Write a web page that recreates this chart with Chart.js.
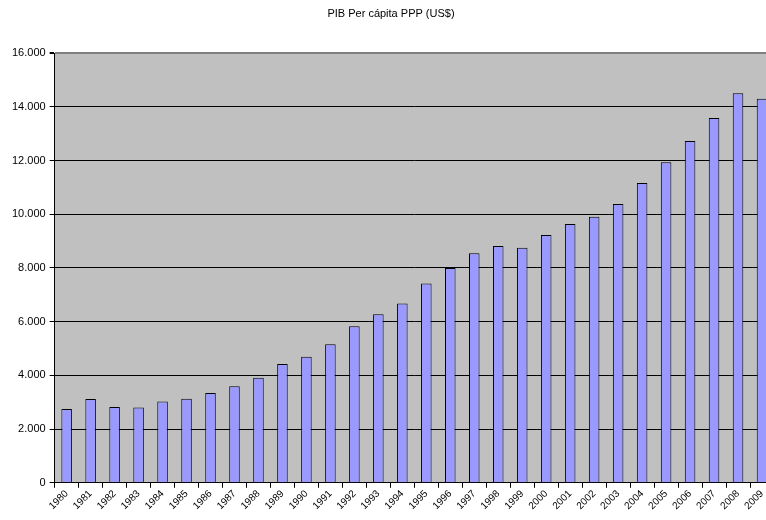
<!DOCTYPE html>
<html>
  <head>
    <script src="https://cdn.jsdelivr.net/npm/chart.js"></script>
    <style>
      body { margin: 0; overflow: hidden; background: #fff; font-family: Arial; }
      #wrap { width: 800px; height: 520px; }
    </style>
  </head>
  <body>
    <div id="wrap"><canvas id="pibChart"></canvas></div>

    <script>
      const years = ['1980', '1981', '1982', '1983', '1984', '1985', '1986', '1987', '1988', '1989',
                     '1990', '1991', '1992', '1993', '1994', '1995', '1996', '1997', '1998', '1999',
                     '2000', '2001', '2002', '2003', '2004', '2005', '2006', '2007', '2008', '2009'];
      const pibPerCapita = [2750, 3120, 2820, 2800, 3030, 3130, 3340, 3600, 3915, 4425,
                            4690, 5160, 5830, 6280, 6680, 7420, 8000, 8550, 8815, 8755,
                            9225, 9635, 9910, 10380, 11165, 11935, 12730, 13590, 14510, 14300];
      const yTicks = [0, 2000, 4000, 6000, 8000, 10000, 12000, 14000, 16000];

      const fmt = v => String(v).replace(/\B(?=(\d{3})+(?!\d))/g, '.');

      // grey plot area like the old Excel default
      const plotBg = {
        id: 'plotBg',
        beforeDraw(chart) {
          const a = chart.chartArea, c = chart.ctx;
          c.save();
          c.fillStyle = '#c0c0c0';
          c.fillRect(a.left, a.top, a.right - a.left, a.bottom - a.top);
          c.restore();
        }
      };

      Chart.defaults.font.family = 'Arial, "Liberation Sans"';
      Chart.defaults.color = '#000';

      new Chart(document.getElementById('pibChart'), {
        type: 'bar',
        data: {
          labels: years,
          datasets: [{
            label: 'PIB Per cápita PPP (US$)',
            data: pibPerCapita,
            backgroundColor: '#9999ff',
            borderColor: '#000',
            borderWidth: 1,
            categoryPercentage: 1,
            barPercentage: 0.44
          }]
        },
        options: {
          responsive: true,
          maintainAspectRatio: false,
          animation: false,
          layout: { padding: { left: 8, right: 26, top: 0, bottom: 8 } },
          plugins: {
            legend: { display: false },
            tooltip: { enabled: false },
            title: {
              display: true,
              text: 'PIB Per cápita PPP (US$)',
              font: { size: 11, weight: 'normal' },
              padding: { top: 7, bottom: 33 }
            }
          },
          scales: {
            x: {
              grid: { display: true, drawOnChartArea: false, color: '#000', tickLength: 5, offset: true },
              border: { color: '#000', width: 1 },
              ticks: { font: { size: 10 }, minRotation: 45, maxRotation: 45, padding: 0 }
            },
            y: {
              min: 0,
              max: 16000,
              afterBuildTicks: axis => { axis.ticks = yTicks.map(v => ({ value: v })); },
              grid: {
                color: ctx => ctx.tick && ctx.tick.value === 16000 ? '#808080' : '#000',
                lineWidth: ctx => ctx.tick && ctx.tick.value === 16000 ? 2 : 1,
                tickColor: '#000',
                tickLength: 5
              },
              border: { color: '#000', width: 1 },
              ticks: { font: { size: 11 }, padding: 4, callback: v => fmt(v) }
            }
          }
        },
        plugins: [plotBg]
      });
    </script>
  </body>
</html>
